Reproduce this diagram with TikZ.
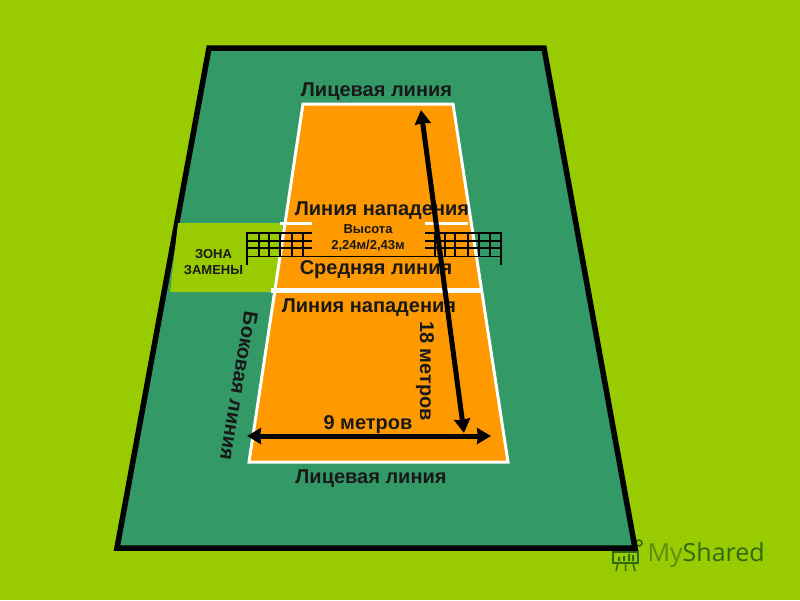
\documentclass[tikz,border=0pt]{standalone}
\usepackage{fontspec}
\setmainfont{Liberation Sans}
\usetikzlibrary{arrows.meta}
\definecolor{grass}{HTML}{99CC00}
\definecolor{field}{HTML}{339966}
\definecolor{court}{HTML}{FF9900}
\definecolor{logodark}{HTML}{2F6A10}
\definecolor{logolight}{HTML}{5F8A10}
\tikzset{every path/.style={line width=1pt}}
\tikzset{
  lab/.style={font=\fontsize{20}{22}\selectfont\bfseries,inner sep=0pt,color=black!90},
  small/.style={font=\fontsize{13}{16}\selectfont\bfseries,inner sep=0pt,align=center,color=black!90},
  whiteline/.style={color=white,line width=5pt},
  netline/.style={color=black,line width=1.5pt},
  bigarrow/.style={color=black,line width=5pt,{Stealth[length=14pt,width=16pt,inset=1pt]}-{Stealth[length=14pt,width=16pt,inset=1pt]}}
}

\begin{document}
\begin{tikzpicture}[x=1pt,y=-1pt]
    \fill[grass] (0,0) rectangle (800,600);
    % logo
    \node[inner sep=0pt,anchor=west,font=\fontsize{25}{30}\selectfont\sffamily] (logo) at (647,555) {\fontspec{Open Sans}\textcolor{logolight}{My}\textcolor{logodark}{Shared}};
    \draw[logodark,line width=1.5pt] (613,552) rectangle (638,563);
    \draw[logodark,line width=1.5pt] (618,563) -- (616,571) (625.5,563) -- (625.5,571) (633,563) -- (635,571);
    \draw[logodark,line width=1.5pt] (614,543) circle (5);
    \draw[logodark,line width=1.5pt] (618,538) -- (636,538) (639,543) circle (3);
    \fill[logodark] (618,557) rectangle (620,561) (623,556) rectangle (625,561) (628,554) rectangle (630,561) (632,555) rectangle (634,561);
    % field
    \filldraw[fill=field,draw=black,line width=5.5pt,miter limit=4] (209,48) -- (544,48) -- (635,548) -- (117,548) -- cycle;
    \fill[grass] (178,223) -- (283,223) -- (274,292) -- (170,292) -- cycle;
    \filldraw[fill=court,draw=white,line width=3pt] (303,104) -- (453,104) -- (508,462) -- (249,462) -- cycle;
    % court lines
    \coordinate (m1) at (271,290);
    \coordinate (m2) at (481,290);
    \coordinate (a1) at (280,223);
    \coordinate (a2) at (312,223);
    \coordinate (a3) at (425,223);
    \coordinate (a4) at (468,223);
    \draw[whiteline] (m1) -- (m2);
    \draw[whiteline,line width=3pt] (a1) -- (a2);
    \draw[whiteline,line width=3pt] (a3) -- (a4);
    % net
    \foreach \y in {233,241,248} {
      \draw[netline] (247,\y) -- (312,\y);
      \draw[netline] (425,\y) -- (501,\y);
    }
    \draw[netline,line width=1pt] (247,256) -- (501,256);
    \foreach \x in {259,269,280,292,303,435,445,455,468,479,490} {
      \draw[netline] (\x,233) -- (\x,256);
    }
    \draw[netline] (247,232) -- (247,265);
    \draw[netline] (501,232) -- (501,265);
    % labels
    \node[lab] (top) at (376.5,92) {Лицевая линия};
    \node[lab] (attack1) at (382,211) {Линия нападения};
    \node[small] (height) at (368,238) {Высота\\2,24м/2,43м};
    \node[small] (zone) at (213.5,262.5) {ЗОНА\\ЗАМЕНЫ};
    \node[lab] (middle) at (376,270) {Средняя линия};
    \node[lab] (attack2) at (369,308) {Линия нападения};
    \node[lab,rotate=-90] (len) at (425,371) {18 метров};
    \node[lab,rotate=-99.5] (side) at (239,386) {Боковая линия};
    \node[lab] (width) at (368,425) {9 метров};
    \node[lab] (bottom) at (371,479) {Лицевая линия};
    % arrows
    \coordinate (l1) at (421,110);
    \coordinate (l2) at (464,433);
    \coordinate (w1) at (247,436);
    \coordinate (w2) at (491,436);
    \draw[bigarrow] (l1) -- (l2);
    \draw[bigarrow] (w1) -- (w2);
\end{tikzpicture}
\end{document}
